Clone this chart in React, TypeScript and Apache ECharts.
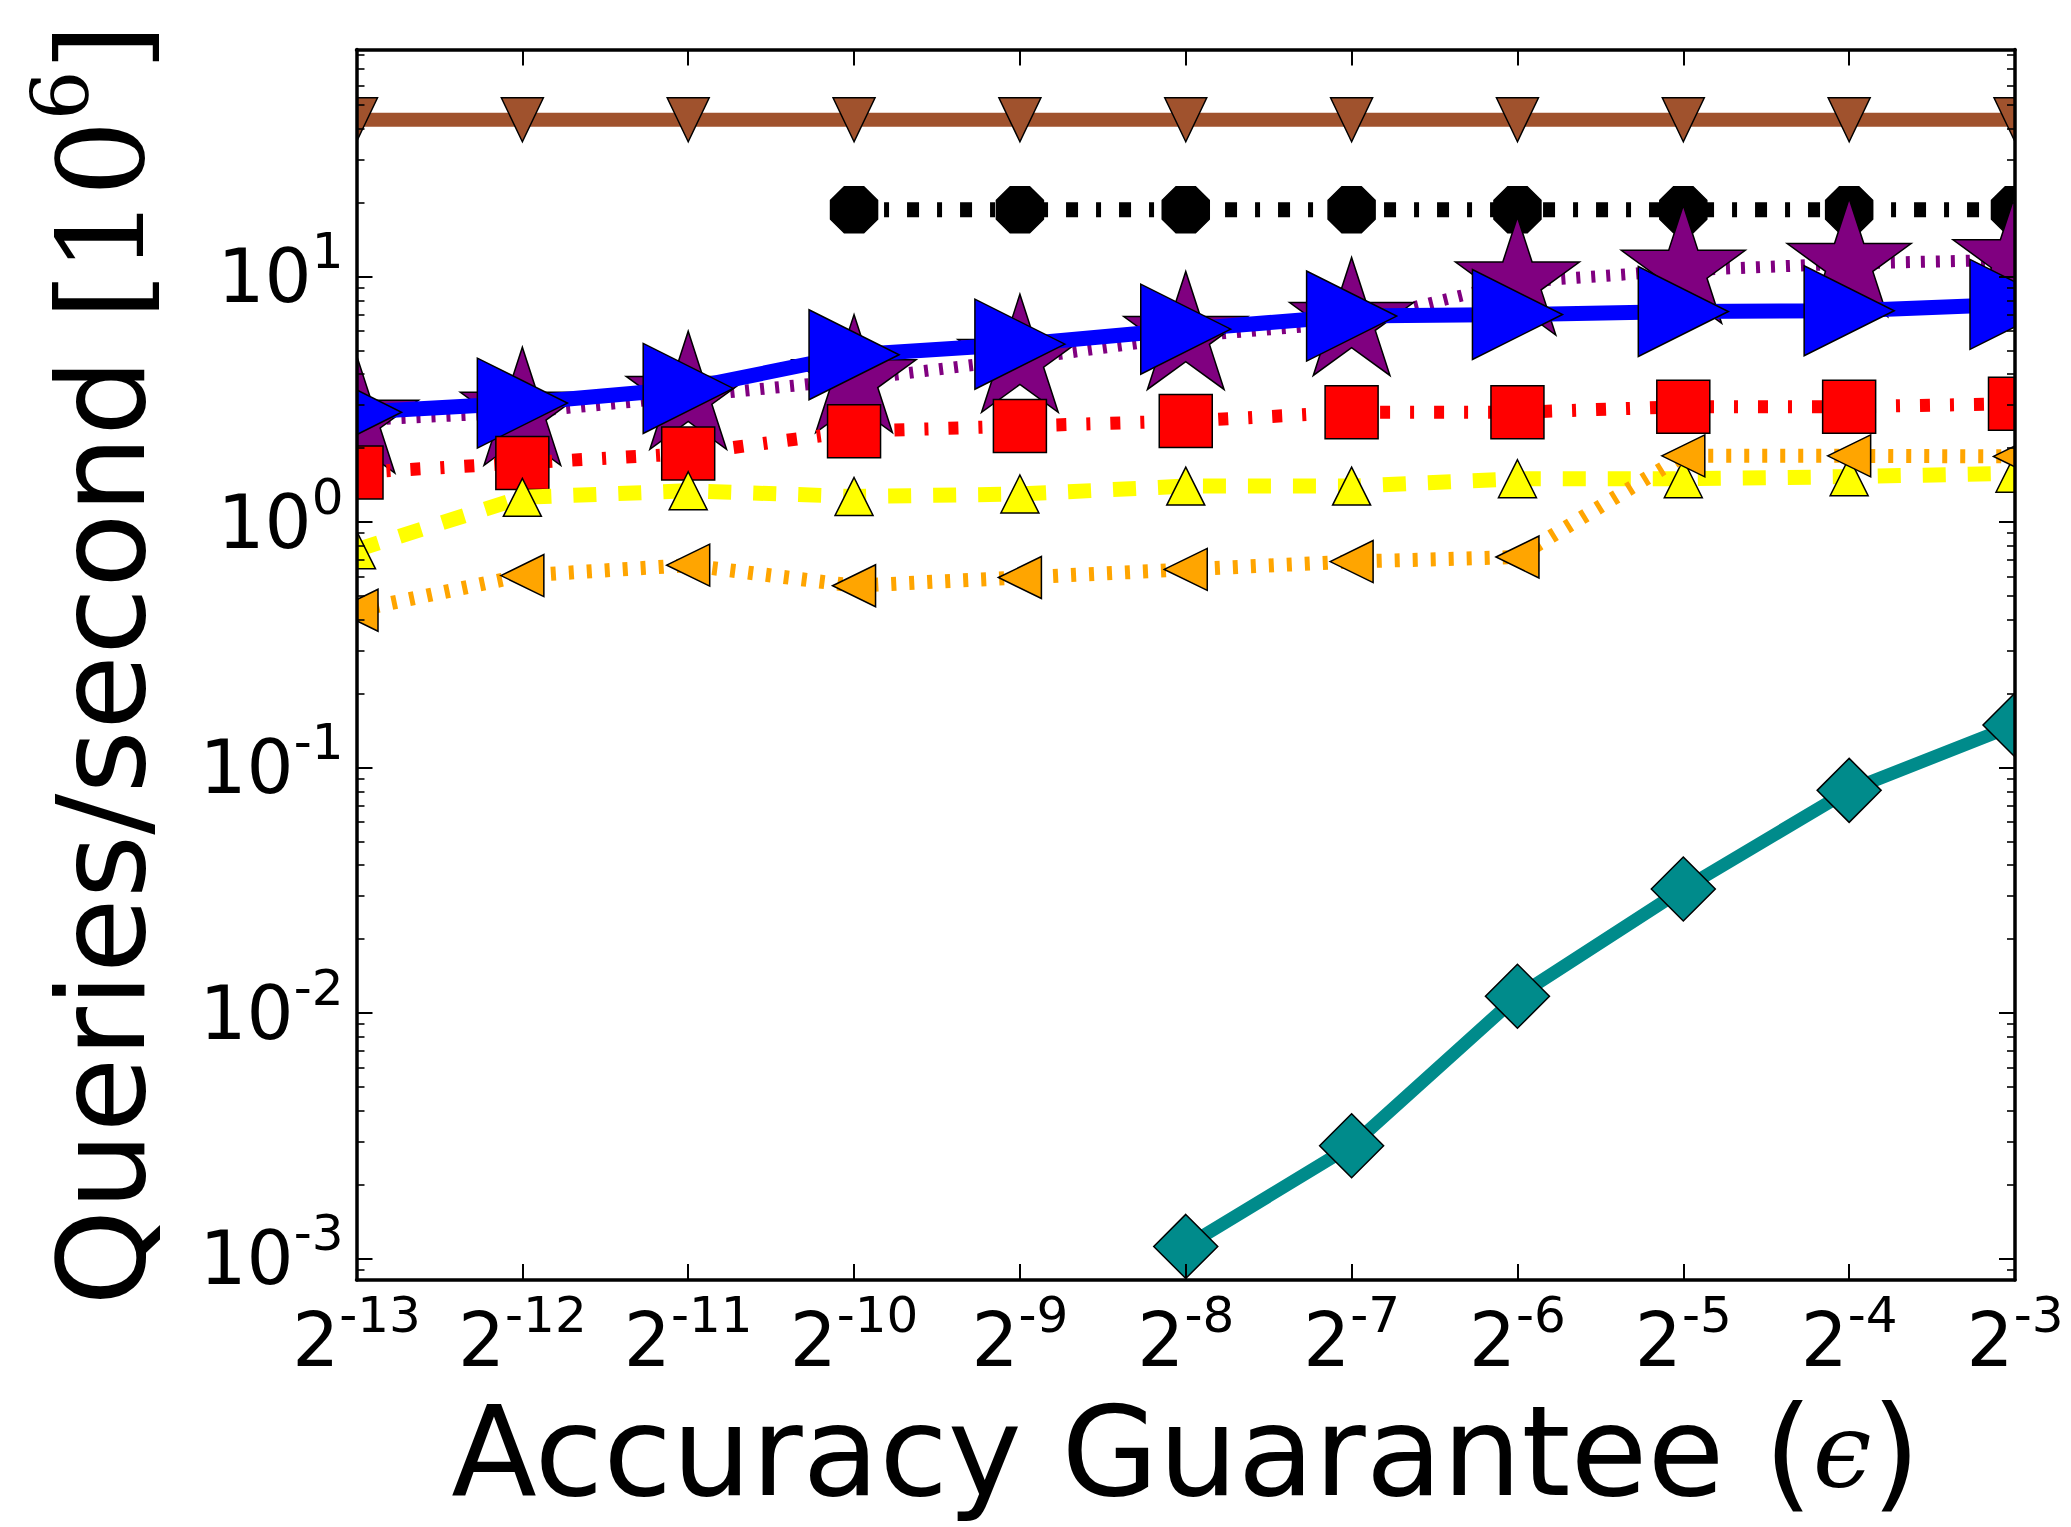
import React, { useEffect, useRef } from "react";
import * as echarts from "echarts";

// x positions: exponents of 2 (epsilon = 2^x)
const epsilonExponents = [-13, -12, -11, -10, -9, -8, -7, -6, -5, -4, -3];
const yDecadeTicks = [-3, -2, -1, 0, 1];

// Queries/second [10^6]
const brownSeries = [43.5, 43.5, 43.5, 43.5, 43.5, 43.5, 43.5, 43.5, 43.5, 43.5, 43.5];
const blackSeries = [null, null, null, 18.7, 18.7, 18.7, 18.7, 18.7, 18.7, 18.7, 18.7];
const purpleSeries = [2.6, 2.8, 3.25, 3.8, 4.6, 5.7, 6.5, 9.5, 10.6, 11.3, 11.7];
const blueSeries = [2.8, 3.05, 3.5, 4.8, 5.3, 6.1, 6.9, 7.0, 7.2, 7.25, 7.7];
const redSeries = [1.59, 1.74, 1.9, 2.34, 2.46, 2.58, 2.8, 2.8, 2.95, 2.95, 3.03];
const yellowSeries = [0.77, 1.26, 1.34, 1.27, 1.3, 1.4, 1.4, 1.5, 1.5, 1.53, 1.58];
const orangeSeries = [0.437, 0.605, 0.667, 0.55, 0.594, 0.641, 0.69, 0.72, 1.86, 1.86, 1.85];
const tealSeries = [null, null, null, null, null, 0.00112, 0.00288, 0.0117, 0.032, 0.0807, 0.149];

const Y_MIN = -3.0876; // log10 of axis bottom
const Y_MAX = 1.9246; // log10 of axis top

const OCTAGON =
  "path://M92.4,38.3L38.3,92.4L-38.3,92.4L-92.4,38.3L-92.4,-38.3L-38.3,-92.4L38.3,-92.4L92.4,-38.3Z";
const STAR =
  "path://M0,-100L22.45,-30.9L95.1,-30.9L36.33,11.8L58.78,80.9L0,38.2L-58.78,80.9L-36.33,11.8L-95.1,-30.9L-22.45,-30.9Z";

function toPoints(vals: (number | null)[]) {
  const pts: number[][] = [];
  vals.forEach((v, i) => {
    if (v != null) pts.push([epsilonExponents[i], Math.log10(v)]);
  });
  return pts;
}

function makeSeries(
  name: string,
  vals: (number | null)[],
  color: string,
  width: number,
  dash: any,
  symbol: string,
  size: number[],
  rotate: number,
  z: number,
  offset?: number[]
) {
  return {
    type: "line",
    name,
    xAxisIndex: 0,
    yAxisIndex: 0,
    data: toPoints(vals),
    z,
    clip: false,
    silent: true,
    symbol,
    symbolSize: size,
    symbolRotate: rotate,
    symbolOffset: offset || [0, 0],
    showSymbol: true,
    lineStyle: { color, width, type: dash, cap: "butt", join: "round" },
    itemStyle: { color, borderColor: "#000", borderWidth: 1.5 },
    emphasis: { disabled: true },
  };
}

export default function App() {
  const ref = useRef<HTMLDivElement>(null);
  useEffect(() => {
    if (!ref.current) return;
    const chart = echarts.init(ref.current, undefined, { renderer: "svg" });

    const minorTicks: number[] = [];
    for (let e = -4; e <= 1; e++) {
      for (let k = 2; k <= 9; k++) {
        const v = e + Math.log10(k);
        if (v > Y_MIN && v < Y_MAX) minorTicks.push(v);
      }
    }

    const gridRect = { left: 356.5, top: 49.5, width: 1658.5, height: 1230.5, outerBoundsMode: "none", containLabel: false };
    const frameLine = { show: true, onZero: false, lineStyle: { color: "#000", width: 3.5 } };
    const labelRich = {
      b: { fontFamily: "DejaVu Sans", fontSize: 74, lineHeight: 100, color: "#000" },
      s: { fontFamily: "DejaVu Sans", fontSize: 50, lineHeight: 26, verticalAlign: "top", color: "#000" },
    };

    const option: any = {
      animation: false,
      backgroundColor: "#ffffff",
      grid: [gridRect, gridRect],
      xAxis: [
        {
          type: "value",
          gridIndex: 0,
          position: "bottom",
          min: -13,
          max: -3,
          z: 100,
          axisLine: frameLine,
          splitLine: { show: false },
          axisTick: { show: true, inside: true, length: 16, customValues: epsilonExponents, lineStyle: { color: "#000", width: 2 } },
          axisLabel: {
            show: true,
            margin: 10,
            customValues: epsilonExponents,
            formatter: (v: number) => `{b|2}{s|${v}}`,
            rich: labelRich,
          },
          name: "{t|Accuracy Guarantee (}{e|ϵ}{t|)}",
          nameLocation: "middle",
          nameGap: 106,
          nameMoveOverlap: false,
          nameTextStyle: {
            color: "#000",
            fontFamily: "DejaVu Sans",
            fontSize: 125,
            rich: {
              t: { fontFamily: "DejaVu Sans", fontSize: 125, lineHeight: 130, color: "#000" },
              e: { fontFamily: "DejaVu Serif", fontStyle: "italic", fontSize: 105, lineHeight: 130, color: "#000" },
            },
          },
        },
        {
          type: "value",
          gridIndex: 0,
          position: "top",
          min: -13,
          max: -3,
          z: 100,
          axisLine: frameLine,
          splitLine: { show: false },
          axisTick: { show: true, inside: true, length: 16, customValues: epsilonExponents, lineStyle: { color: "#000", width: 2 } },
          axisLabel: { show: false },
        },
        { type: "value", gridIndex: 1, min: -13, max: -3, show: false },
      ],
      yAxis: [
        {
          type: "value",
          gridIndex: 0,
          position: "left",
          min: Y_MIN,
          max: Y_MAX,
          z: 100,
          axisLine: frameLine,
          splitLine: { show: false },
          axisTick: { show: true, inside: true, length: 16, customValues: yDecadeTicks, lineStyle: { color: "#000", width: 2 } },
          axisLabel: {
            show: true,
            margin: 13,
            customValues: yDecadeTicks,
            formatter: (v: number) => `{b|10}{s|${Math.round(v)}}`,
            rich: labelRich,
          },
          name: "{t|Queries/second }{m|[10}{ms|6}{m|]}",
          nameLocation: "middle",
          nameGap: 175,
          nameMoveOverlap: false,
          nameTextStyle: {
            color: "#000",
            fontFamily: "DejaVu Sans",
            fontSize: 122,
            rich: {
              t: { fontFamily: "DejaVu Sans", fontSize: 122, lineHeight: 160, color: "#000" },
              m: { fontFamily: "DejaVu Serif", fontSize: 120, lineHeight: 160, color: "#000" },
              ms: { fontFamily: "DejaVu Serif", fontSize: 78, lineHeight: 22, verticalAlign: "top", color: "#000" },
            },
          },
        },
        {
          type: "value",
          gridIndex: 0,
          position: "right",
          min: Y_MIN,
          max: Y_MAX,
          z: 100,
          axisLine: frameLine,
          splitLine: { show: false },
          axisTick: { show: true, inside: true, length: 16, customValues: yDecadeTicks, lineStyle: { color: "#000", width: 2 } },
          axisLabel: { show: false },
        },
        {
          type: "value",
          gridIndex: 1,
          position: "left",
          min: Y_MIN,
          max: Y_MAX,
          z: 100,
          axisLine: { show: false, onZero: false },
          splitLine: { show: false },
          axisTick: { show: true, inside: true, length: 8, customValues: minorTicks, lineStyle: { color: "#000", width: 1.6 } },
          axisLabel: { show: false },
        },
        {
          type: "value",
          gridIndex: 1,
          position: "right",
          min: Y_MIN,
          max: Y_MAX,
          z: 100,
          axisLine: { show: false, onZero: false },
          splitLine: { show: false },
          axisTick: { show: true, inside: true, length: 8, customValues: minorTicks, lineStyle: { color: "#000", width: 1.6 } },
          axisLabel: { show: false },
        },
      ],
      graphic: [
        { type: "rect", z: 90, silent: true, shape: { x: 0, y: 0, width: 356.5, height: 1527 }, style: { fill: "#fff" } },
        { type: "rect", z: 90, silent: true, shape: { x: 2015, y: 0, width: 56, height: 1527 }, style: { fill: "#fff" } },
        { type: "rect", z: 90, silent: true, shape: { x: 0, y: 0, width: 2071, height: 49.5 }, style: { fill: "#fff" } },
        { type: "rect", z: 90, silent: true, shape: { x: 0, y: 1280, width: 2071, height: 247 }, style: { fill: "#fff" } },
      ],
      series: [
        makeSeries("brown", brownSeries, "#a0522d", 14, "solid", "triangle", [42, 44], 180, 11),
        makeSeries("black", blackSeries, "#000000", 15, [12, 18, 5, 18], OCTAGON, [47, 46], 0, 12),
        makeSeries("purple", purpleSeries, "#800080", 12, [4, 11], STAR, [124, 118], 0, 13, [0, -6]),
        makeSeries("blue", blueSeries, "#0000ff", 15, "solid", "triangle", [90, 90], -90, 14),
        makeSeries("red", redSeries, "#ff0000", 13, [10, 20, 4, 20], "rect", [53, 53], 0, 15),
        makeSeries("yellow", yellowSeries, "#ffff00", 15, [23, 22], "triangle", [38, 38], 0, 16),
        makeSeries("orange", orangeSeries, "#ffa500", 14, [5, 13], "triangle", [42, 43], 90, 17),
        makeSeries("teal", tealSeries, "#008b8b", 13, "solid", "diamond", [64, 64], 0, 18),
      ],
    };
    chart.setOption(option);
    return () => chart.dispose();
  }, []);

  return (
    <div
      ref={ref}
      style={{ position: "absolute", left: 0, top: 0, width: 2071, height: 1527, background: "#fff" }}
    />
  );
}
